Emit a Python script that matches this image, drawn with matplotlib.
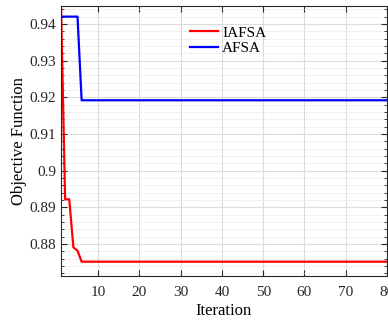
import matplotlib
matplotlib.use("Agg")
import matplotlib.pyplot as plt
from matplotlib.ticker import MultipleLocator
import numpy as np

# data
iterations = np.arange(1, 81)
iafsa_head = [0.945, 0.8922, 0.8922, 0.8791, 0.8782]
iafsa_tail = 0.8752
afsa_head = [0.9420, 0.9420, 0.9420, 0.9420, 0.9420]
afsa_tail = 0.9192

iafsa = iafsa_head + [iafsa_tail] * (len(iterations) - len(iafsa_head))
afsa = afsa_head + [afsa_tail] * (len(iterations) - len(afsa_head))

plt.rcParams['font.family'] = ['Liberation Serif', 'DejaVu Serif']

fig = plt.figure(figsize=(3.88, 3.2), dpi=100)
ax = fig.add_axes([61 / 388, 1 - 276 / 320, 326 / 388, 270 / 320])

ax.plot(iterations, iafsa, color='#ff0000', lw=1.6, label='IAFSA')
ax.plot(iterations, afsa, color='#0000ff', lw=1.6, label='AFSA')

ax.set_xlim(1, 80)
ax.set_ylim(0.8713, 0.9449)
ax.xaxis.set_major_locator(MultipleLocator(10))
ax.yaxis.set_major_locator(MultipleLocator(0.01))
ax.yaxis.set_minor_locator(MultipleLocator(0.002))
ax.yaxis.set_major_formatter(lambda v, p: ('%.2f' % v).rstrip('0').rstrip('.') if abs(v - 0.9) < 1e-9 else '%.2f' % v)

ax.grid(True, which='major', color='#dcdcdc', lw=0.8, ls='-')
ax.grid(True, which='minor', axis='y', color='#d0d0d0', lw=0.6, ls=(0, (1, 2)))
ax.set_axisbelow(True)

ax.tick_params(which='both', direction='in', top=True, right=True, labelsize=11, colors='#262626')
ax.tick_params(which='major', length=4)
ax.tick_params(which='minor', length=2)
ax.tick_params(axis='x', pad=7)
for s in ax.spines.values():
    s.set_color('#262626')
    s.set_linewidth(0.8)

ax.set_xlabel('Iteration', fontsize=12, labelpad=3)
ax.set_ylabel('Objective Function', fontsize=12, labelpad=2)

ax.legend(loc='upper left', bbox_to_anchor=(184 / 388, 1 - 20 / 320),
          bbox_transform=fig.transFigure, frameon=False, fontsize=11,
          handlelength=1.8, handletextpad=0.3, labelspacing=0.1, borderaxespad=0)

fig.savefig('out.png', dpi=100)
